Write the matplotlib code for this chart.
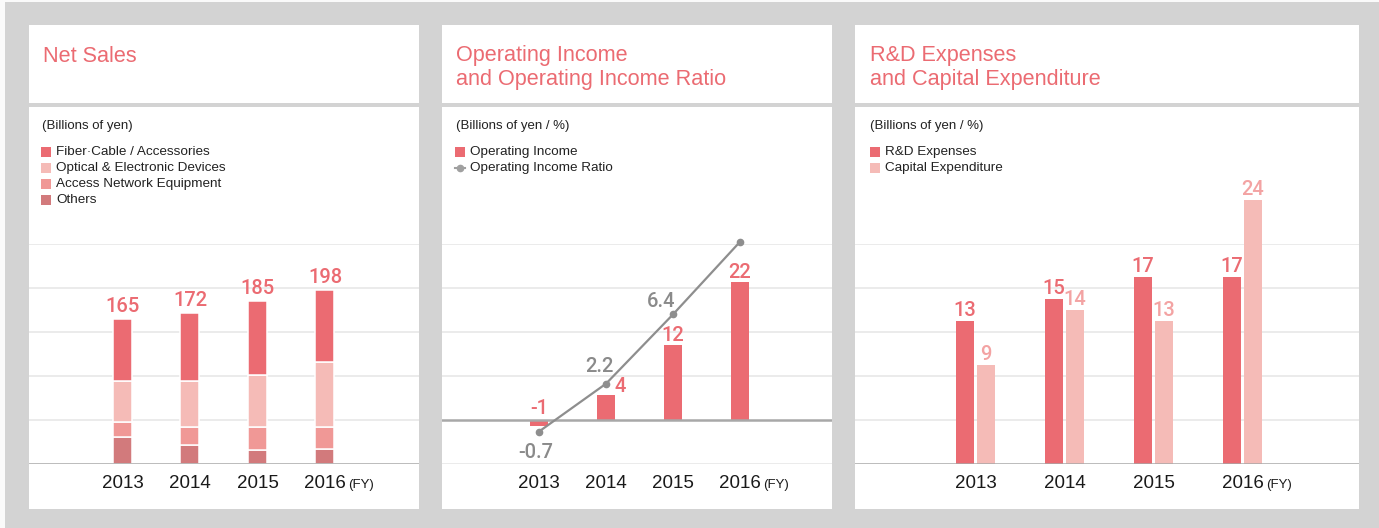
import matplotlib.pyplot as plt
from matplotlib.patches import Rectangle
from matplotlib.lines import Line2D

plt.rcParams['font.family'] = ['Liberation Sans', 'DejaVu Sans']

# data (billions of yen / %)
years = ['2013', '2014', '2015', '2016']
fiber = [71, 78, 84, 82]
optical = [46, 52, 59, 74]
access = [17, 20, 26, 25]
others = [31, 22, 16, 17]
net_sales = [165, 172, 185, 198]
op_income = [-1, 4, 12, 22]
op_ratio = [-0.7, 2.2, 6.4, 10.8]
rnd = [13, 15, 17, 17]
capex = [9, 14, 13, 24]

RED = '#eb6b72'
PINK = '#f5bbb7'
MID = '#f09896'
DARK = '#d27a7c'
CAPEX_TXT = '#f3a3a3'
LINE = '#8e8e8e'
BG = '#d3d3d3'
GRID = '#e6e6e6'
BASE = '#a8a8a8'
VAL_FONT = dict(family=['Roboto', 'Liberation Sans'], fontweight='medium', fontsize=14.5)

W, H = 1379, 528
fig = plt.figure(figsize=(W / 100, H / 100), dpi=100, facecolor=BG)


def rect(x0, y0, x1, y1):
    return [x0 / W, 1 - y1 / H, (x1 - x0) / W, (y1 - y0) / H]


def px(x, y):
    return x / W, 1 - y / H


def box(x0, y0, x1, y1, color='white', z=-5):
    fig.patches.append(Rectangle((x0 / W, 1 - y1 / H), (x1 - x0) / W, (y1 - y0) / H,
                                 transform=fig.transFigure, facecolor=color,
                                 edgecolor='none', zorder=z))


# thin white strip on left / top of the screenshot
box(0, 0, 5, H, '#fafafa')
box(0, 0, W, 2, '#fafafa')

panels = [(29, 419), (442, 832), (855, 1359)]
for x0, x1 in panels:
    box(x0, 25, x1, 103)
    box(x0, 107, x1, 509)

# titles
TS = 15.6
fig.text(*px(43, 56), 'Net Sales', color=RED, fontsize=TS, va='center')
fig.text(*px(456, 56), 'Operating Income', color=RED, fontsize=TS, va='center')
fig.text(*px(456, 80), 'and Operating Income Ratio', color=RED, fontsize=TS, va='center')
fig.text(*px(870, 56), 'R&D Expenses', color=RED, fontsize=TS, va='center')
fig.text(*px(870, 80), 'and Capital Expenditure', color=RED, fontsize=TS, va='center')

fig.text(*px(42, 126), '(Billions of yen)', fontsize=9.5, va='center', color='#222222')
fig.text(*px(456, 126), '(Billions of yen / %)', fontsize=9.5, va='center', color='#222222')
fig.text(*px(870, 126), '(Billions of yen / %)', fontsize=9.5, va='center', color='#222222')


def legend(x, items):
    for i, (label, color) in enumerate(items):
        y = 152 + 16 * i
        if color == 'line':
            fig.lines.append(Line2D([(x + 1) / W, (x + 11) / W], [1 - y / H, 1 - y / H],
                                    transform=fig.transFigure, color='#a0a0a0', lw=1.5))
            fig.lines.append(Line2D([(x + 6) / W], [1 - y / H], transform=fig.transFigure,
                                    color='#a0a0a0', marker='o', ms=4.5, lw=0))
        else:
            box(x + 1, y - 5, x + 11, y + 5, color, z=1)
        fig.text(*px(x + 16, y), label, fontsize=9.7, va='center', color='#222222')


legend(40, [('Fiber\u00b7Cable / Accessories', RED), ('Optical & Electronic Devices', PINK),
            ('Access Network Equipment', MID), ('Others', DARK)])
legend(454, [('Operating Income', RED), ('Operating Income Ratio', 'line')])
legend(869, [('R&D Expenses', RED), ('Capital Expenditure', PINK)])


def setup(ax, grid_vals, base_val, xlim, ylim):
    ax.set_xlim(*xlim)
    ax.set_ylim(*ylim)
    ax.patch.set_visible(False)
    for s in ax.spines.values():
        s.set_visible(False)
    ax.set_yticks([])
    ax.set_xticks([])
    for g in grid_vals:
        ax.axhline(g, color=GRID, lw=1.1, zorder=0)
    ax.axhline(base_val, color=BASE, lw=1.8, zorder=3)


def year_labels(ax, xs):
    for x, yr in zip(xs, years):
        ax.annotate(yr, (x, 0), xycoords=ax.get_xaxis_transform(), xytext=(0, -17.5),
                    textcoords='offset points', ha='center', va='baseline',
                    fontsize=13.5, color='#1a1a1a')
    ax.annotate('(FY)', (xs[-1], 0), xycoords=ax.get_xaxis_transform(), xytext=(17, -17.5),
                textcoords='offset points', ha='left', va='baseline',
                fontsize=9.5, color='#1a1a1a')


pos = list(range(len(years)))

# --- Net sales (stacked)
ax1 = fig.add_axes(rect(29, 244, 419, 464))
setup(ax1, [50, 100, 150, 200, 250], 0, (-1.385, 4.393), (0, 250))
bw = 19 / 67.5
bottom = [0] * 4
for vals, color in [(others, DARK), (access, MID), (optical, PINK), (fiber, RED)]:
    ax1.bar(pos, vals, bw, bottom=bottom, color=color, edgecolor='white', lw=1.1, zorder=2)
    bottom = [b + v for b, v in zip(bottom, vals)]
for x, v in zip(pos, net_sales):
    ax1.annotate(str(v), (x, v), xytext=(0, 5), textcoords='offset points',
                 ha='center', va='baseline', color=RED, **VAL_FONT)
year_labels(ax1, pos)

# --- Operating income + ratio
ax2 = fig.add_axes(rect(442, 244, 832, 464))
setup(ax2, [-7, 7, 14, 21, 28], 0, (-1.448, 4.373), (-7, 28))
ax2.bar(pos, op_income, 18 / 67, color=RED, zorder=2)
inc_off = [(0, 4), (10, 2), (0, 2.5), (0, 2.5)]
for x, v, off in zip(pos, op_income, inc_off):
    ax2.annotate(str(v), (x, max(v, 0)), xytext=off, textcoords='offset points',
                 ha='center', va='baseline', color=RED, **VAL_FONT)
year_labels(ax2, pos)

ax2r = ax2.twinx()
ax2r.set_ylim(-44 / 16.5, 176 / 16.5)
ax2r.set_axis_off()
ax2r.plot(pos, op_ratio, color=LINE, lw=1.6, marker='o', ms=4.5, clip_on=False, zorder=5)
ratio_off = [(-2.5, -19), (-4.5, 8.5), (-8.5, 5), (0, 7)]
for x, v, off in zip(pos, op_ratio, ratio_off):
    ax2r.annotate(f'{v}', (x, v), xytext=off, textcoords='offset points',
                  ha='center', va='baseline', color='#8a8a8a', **VAL_FONT)

# --- R&D and capex
ax3 = fig.add_axes(rect(855, 244, 1359, 464))
setup(ax3, [4, 8, 12, 16, 20], 0, (-1.354, 4.309), (0, 20))
w3 = 18 / 89
d3 = 10.5 / 89
ax3.bar([p - d3 for p in pos], rnd, w3, color=RED, zorder=2, clip_on=False)
ax3.bar([p + d3 for p in pos], capex, w3, color=PINK, zorder=2, clip_on=False)
for x, v in zip(pos, rnd):
    ax3.annotate(str(v), (x - d3, v), xytext=(0, 3.5), textcoords='offset points',
                 ha='center', va='baseline', color=RED, annotation_clip=False, **VAL_FONT)
for x, v in zip(pos, capex):
    ax3.annotate(str(v), (x + d3, v), xytext=(0, 3.5), textcoords='offset points',
                 ha='center', va='baseline', color=CAPEX_TXT, annotation_clip=False, **VAL_FONT)
year_labels(ax3, pos)

fig.savefig('out.png', dpi=100, facecolor=BG)
